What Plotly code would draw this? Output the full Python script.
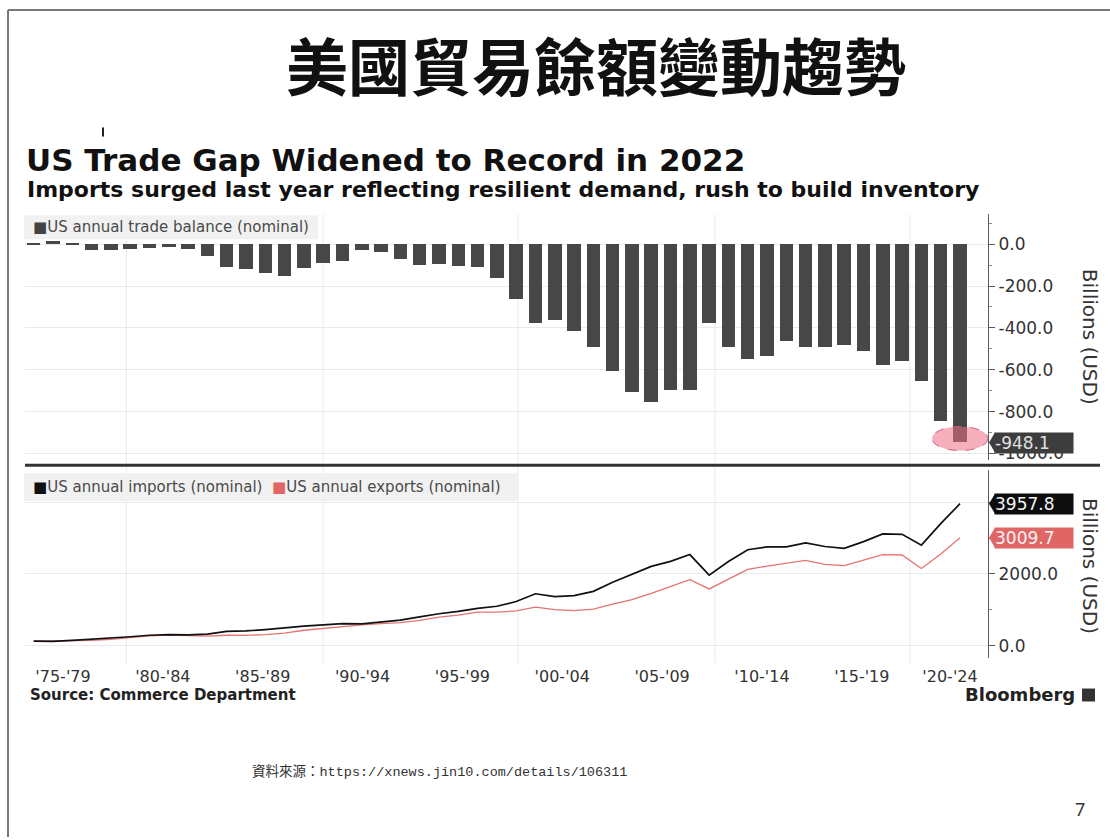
import plotly.graph_objects as go

# ---- data (billions of USD, nominal) ----
years = list(range(1974, 2023))
trade_balance = [
    -1.9, 12.4, -6.1, -27.2, -29.8, -24.6,
    -19.4, -16.2, -24.2, -57.8, -109.1, -121.9, -138.5, -151.7, -114.6, -93.1,
    -80.9, -31.1, -39.2, -70.3, -98.5, -96.4, -104.1, -108.3, -164.9, -263.2,
    -377.3, -362.7, -418.2, -490.5, -605.0, -708.6, -753.3, -696.7, -698.3, -379.2,
    -494.7, -548.6, -536.8, -461.9, -490.3, -491.3, -481.5, -513.8, -579.9, -559.4,
    -653.0, -845.0, -948.1,
]
imports = [
    128.5, 120.6, 148.8, 179.5, 208.2, 248.7,
    291.2, 310.6, 299.4, 323.9, 400.2, 411.0, 448.6, 500.6, 545.7, 580.1,
    616.1, 609.5, 656.1, 713.2, 801.7, 890.8, 955.7, 1042.7, 1099.6, 1230.9,
    1447.8, 1367.2, 1397.4, 1514.5, 1769.0, 1997.4, 2210.3, 2351.3, 2541.0, 1966.8,
    2348.3, 2675.6, 2755.8, 2755.3, 2866.2, 2765.2, 2713.2, 2902.3, 3118.1, 3105.8,
    2803.1, 3404.5, 3957.8,
]
exports = [
    126.6, 133.1, 142.7, 152.3, 178.4, 224.1,
    271.8, 294.4, 275.2, 266.1, 291.0, 289.1, 310.0, 348.9, 431.1, 487.0,
    535.2, 578.3, 616.9, 642.8, 703.3, 794.4, 851.6, 934.5, 933.5, 969.9,
    1075.3, 1005.7, 978.7, 1020.5, 1161.5, 1286.0, 1457.6, 1653.5, 1841.6, 1583.1,
    1853.6, 2127.0, 2218.1, 2293.5, 2376.7, 2266.7, 2232.1, 2388.3, 2538.1, 2528.3,
    2150.1, 2559.0, 3009.7,
]
period_labels = ["'75-'79", "'80-'84", "'85-'89", "'90-'94", "'95-'99",
                 "'00-'04", "'05-'09", "'10-'14", "'15-'19", "'20-'24"]
balance_ticks = [0, -200, -400, -600, -800, -1000]
flow_ticks = [0, 2000, 4000]

# ---- page geometry (pixels) ----
W, H = 1110, 840
PX_L, PX_R = 25, 988          # plot area left / right edge
TOP_Y0, TOP_Y1 = 215, 462     # upper panel top / bottom
BOT_Y0, BOT_Y1 = 472, 660     # lower panel top / bottom
X_RANGE = [1973.55, 2023.45]
TOP_RANGE = [-1033, 143]
BOT_RANGE = [-333, 4889]

def fx(px):
    return px / W

def fy(py):
    return 1 - py / H

top_scale = (TOP_Y1 - TOP_Y0) / (TOP_RANGE[1] - TOP_RANGE[0])   # px per unit
bot_scale = (BOT_Y1 - BOT_Y0) / (BOT_RANGE[1] - BOT_RANGE[0])
x_scale = (PX_R - PX_L) / (X_RANGE[1] - X_RANGE[0])

def px_to_year(px):
    return X_RANGE[0] + (px - PX_L) / x_scale

CHART_FONT = "DejaVu Sans"
# period labels sit roughly 100 px apart; the last one is pulled in from the axis
label_px = [63 + 99.85 * i for i in range(9)] + [950]
tick_pos = [px_to_year(p) for p in label_px]

fig = go.Figure()

fig.add_trace(go.Bar(
    x=years, y=trade_balance, width=0.7,
    marker=dict(color="#474747", line=dict(width=0)),
    xaxis="x", yaxis="y", showlegend=False,
))
fig.add_trace(go.Scatter(
    x=years, y=exports, mode="lines",
    line=dict(color="#e57373", width=1.3),
    xaxis="x2", yaxis="y2", showlegend=False,
))
fig.add_trace(go.Scatter(
    x=years, y=imports, mode="lines",
    line=dict(color="#111111", width=1.7),
    xaxis="x2", yaxis="y2", showlegend=False,
))

axis_common = dict(
    side="right", showline=True, linecolor="#5a5a5a", linewidth=1.2,
    ticks="outside", ticklen=6, tickcolor="#5a5a5a", tickwidth=1.2,
    tickfont=dict(family=CHART_FONT, size=17, color="#333333"),
    gridcolor="#ebebeb", gridwidth=1, zeroline=False,
)

fig.update_layout(
    width=W, height=H,
    margin=dict(l=0, r=0, t=0, b=0),
    paper_bgcolor="white", plot_bgcolor="white",
    bargap=0,
    xaxis=dict(domain=[fx(PX_L), fx(PX_R)], range=X_RANGE, anchor="y",
               showticklabels=False, showgrid=False, zeroline=False,
               showline=False, ticks=""),
    xaxis2=dict(domain=[fx(PX_L), fx(PX_R)], range=X_RANGE, anchor="y2",
                matches="x", showgrid=False, zeroline=False, showline=False,
                tickmode="array", tickvals=tick_pos, ticktext=period_labels,
                ticks="outside", ticklen=4, tickcolor="rgba(0,0,0,0)",
                tickfont=dict(family=CHART_FONT, size=16, color="#333333")),
    yaxis=dict(domain=[fy(TOP_Y1), fy(TOP_Y0)], range=TOP_RANGE, anchor="x",
               tickmode="array", tickvals=balance_ticks,
               ticktext=[f"{v:.1f}" for v in balance_ticks],
               minor=dict(dtick=100, ticks="outside", ticklen=3,
                          tickcolor="#8a8a8a", showgrid=False),
               **axis_common),
    # the 4000 level keeps its gridline; its label sits behind the value tag
    yaxis2=dict(domain=[fy(BOT_Y1), fy(BOT_Y0)], range=BOT_RANGE, anchor="x2",
                tickmode="array", tickvals=flow_ticks,
                ticktext=[f"{v:.1f}" if v < 4000 else "" for v in flow_ticks],
                minor=dict(dtick=1000, ticks="outside", ticklen=3,
                           tickcolor="#8a8a8a", showgrid=False),
                **axis_common),
)

shapes = []
# slide frame (top and left edges)
shapes.append(dict(type="line", xref="paper", yref="paper",
                   x0=fx(8), x1=1.0, y0=fy(10), y1=fy(10),
                   line=dict(color="#7a7a7a", width=2)))
shapes.append(dict(type="line", xref="paper", yref="paper",
                   x0=fx(8), x1=fx(8), y0=fy(10), y1=0,
                   line=dict(color="#7a7a7a", width=2)))
# small stray tick above the chart title
shapes.append(dict(type="line", xref="paper", yref="paper",
                   x0=fx(103), x1=fx(103), y0=fy(128), y1=fy(137),
                   line=dict(color="#222222", width=2)))
# vertical decade gridlines through both panels
for gx in [1978.8, 1989.0, 1999.1, 2009.3, 2019.4]:
    shapes.append(dict(type="line", xref="x", yref="paper",
                       x0=gx, x1=gx, y0=fy(666), y1=fy(TOP_Y0),
                       line=dict(color="#ebebeb", width=1), layer="below"))
# legend backgrounds
shapes.append(dict(type="rect", xref="paper", yref="paper",
                   x0=fx(24), x1=fx(318), y0=fy(240), y1=fy(216),
                   fillcolor="#f1f1f1", line=dict(width=0), layer="below"))
shapes.append(dict(type="rect", xref="paper", yref="paper",
                   x0=fx(24), x1=fx(518), y0=fy(503), y1=fy(475),
                   fillcolor="#f1f1f1", line=dict(width=0), layer="below"))
# panel separator
shapes.append(dict(type="line", xref="paper", yref="paper",
                   x0=fx(PX_L), x1=fx(1100), y0=fy(467), y1=fy(467),
                   line=dict(color="#333333", width=3)))
# highlight around the latest bar
last_year, last_bal = years[-1], trade_balance[-1]
shapes.append(dict(type="circle", xref="x", yref="y",
                   x0=last_year - 1.45, x1=last_year + 1.45,
                   y0=last_bal - 8 / top_scale, y1=last_bal + 16 / top_scale,
                   fillcolor="rgba(236,110,135,0.55)",
                   line=dict(color="#d9607a", width=1, dash="dash"),
                   layer="above"))

# value tags on the right axis (pointer triangle + boxed text)
tags = [
    ("y", trade_balance[-1], top_scale, "#3d3d3d", "#e0e0e0"),
    ("y2", imports[-1], bot_scale, "#0d0d0d", "#f2f2f2"),
    ("y2", exports[-1], bot_scale, "#e06666", "#fff2f2"),
]
annotations = []
for yref, val, scale, bg, fg in tags:
    half = 10 / scale
    shapes.append(dict(type="path", xref="paper", yref=yref,
                       path=f"M {fx(PX_R + 1)},{val} L {fx(995)},{val + half} "
                            f"L {fx(995)},{val - half} Z",
                       fillcolor=bg, line=dict(width=0), layer="above"))
    annotations.append(dict(xref="paper", yref=yref, x=fx(994), y=val,
                            xanchor="left", yanchor="middle",
                            text=f"{val:.1f}", showarrow=False,
                            bgcolor=bg, width=78, height=20, align="left",
                            borderpad=0,
                            font=dict(family=CHART_FONT, size=17, color=fg)))

def note(text, x, y, size, color="#111111", family=CHART_FONT,
         xanchor="left", yanchor="middle", **kw):
    annotations.append(dict(xref="paper", yref="paper", x=fx(x), y=fy(y),
                            xanchor=xanchor, yanchor=yanchor, text=text,
                            showarrow=False,
                            font=dict(family=family, size=size, color=color),
                            **kw))

note("<b>美國貿易餘額變動趨勢</b>", 596, 64, 62,
     family="Noto Sans CJK TC", xanchor="center")
note("<b>US Trade Gap Widened to Record in 2022</b>", 24, 161, 31)
note("<b>Imports surged last year reflecting resilient demand, rush to build inventory</b>",
     25, 190, 22)
note("<span style='color:#444444'>■</span>US annual trade balance (nominal)",
     31, 228, 15, color="#4a4a4a")
note("<span style='color:#111111'>■</span>US annual imports (nominal)  "
     "<span style='color:#e06666'>■</span>US annual exports (nominal)",
     31, 489, 15, color="#4a4a4a")
note("Billions (USD)", 1090, 338, 20, color="#333333",
     xanchor="center", textangle=90)
note("Billions (USD)", 1090, 568, 20, color="#333333",
     xanchor="center", textangle=90)
note("<b>Source: Commerce Department</b>", 28, 697, 15, color="#222222")
note("<b>Bloomberg</b>", 1077, 697, 18, color="#222222", xanchor="right")
note("<span style='font-family:Noto Sans CJK TC'>資料來源：</span>"
     "https://xnews.jin10.com/details/106311", 250, 773, 13.5,
     color="#333333", family="Liberation Mono")
note("7", 1080, 812, 18, color="#333333", family="Noto Sans", xanchor="center")

# Bloomberg mark
shapes.append(dict(type="rect", xref="paper", yref="paper",
                   x0=fx(1082), x1=fx(1095), y0=fy(704), y1=fy(691),
                   fillcolor="#333333", line=dict(width=0)))

fig.update_layout(shapes=shapes, annotations=annotations)
fig.write_html("out.html")
